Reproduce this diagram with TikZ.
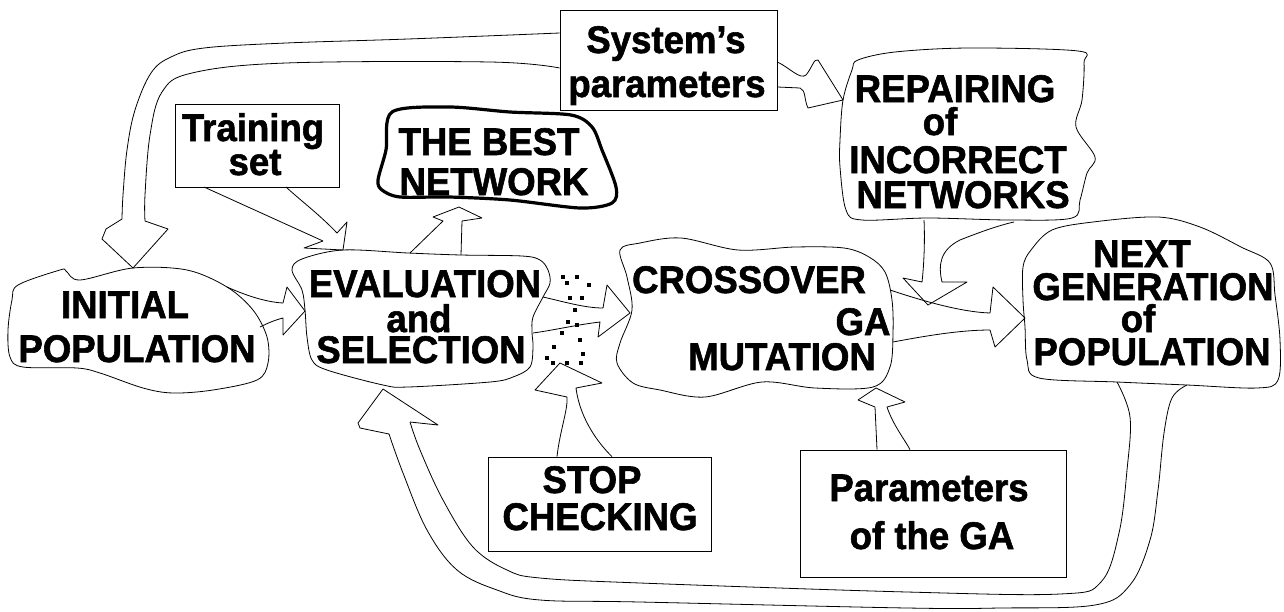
\documentclass[tikz,border=0pt]{standalone}
\usepackage{fontspec}
\setmainfont{Liberation Sans}[BoldFeatures={FakeBold=1.5,FakeStretch=0.95}]
\begin{document}
\begin{tikzpicture}[x=1pt,y=-1pt,
  lbl/.style={anchor=base,inner sep=0pt,font=\bfseries\fontsize{38.5}{40}\selectfont},
  blob/.style={draw,line width=0.8pt,line join=round},
  thickblob/.style={draw,line width=3.2pt,line join=round},
  outline/.style={draw,line width=0.8pt,line join=round},
  box/.style={draw,line width=0.8pt,inner sep=0pt},
  dot/.style={fill,inner sep=0pt,minimum width=4.5pt,minimum height=4.5pt}]
\useasboundingbox (0,0) rectangle (1284,611);

% ---------- rectangular input boxes ----------
\node[box,minimum width=217pt,minimum height=100pt] (sys) at (668.5,60) {};
\node[box,minimum width=164pt,minimum height=83pt] (train) at (257.5,145.5) {};
\node[box,minimum width=223pt,minimum height=94pt] (stop) at (599.5,504) {};
\node[box,minimum width=266pt,minimum height=127pt] (gapar) at (933,513.5) {};

% ---------- cloud-like process blobs ----------
\draw[blob] plot[smooth cycle,tension=0.55] coordinates {
  (18,285) (60,270) (66,271) (80,280) (133,268) (187,270) (227,287)
  (253,310) (267,337) (268,363) (257,380) (213,390) (173,393) (143,388)
  (100,373) (77,368) (23,367) (10,357) (8,330) (12,300)};
\draw[blob] plot[smooth cycle,tension=0.55] coordinates {
  (292,270) (302,259) (343,250) (408,253) (461,255) (522,256) (540,260)
  (548,270) (550,283) (543,297) (533,317) (532,332) (533,347) (530,367)
  (513,377) (490,382) (408,387) (383,385) (327,370) (312,360) (307,337)
  (305,310) (302,290)};
\draw[thickblob] plot[smooth cycle,tension=0.5] coordinates {
  (392,112) (449,107) (510,112) (571,115) (592,127) (602,150) (616,187)
  (612,203) (580,208) (510,200) (449,197) (400,197) (382,190) (378,180)
  (386,150)};
\draw[blob] plot[smooth cycle,tension=0.55] coordinates {
  (858,60) (895,52) (969,48) (1078,51) (1084,63) (1082,100) (1076,127)
  (1095,157) (1087,173) (1080,200) (1072,218) (1010,220) (928,218)
  (862,220) (846,210) (840,167) (840,140) (843,100) (852,70)};
\draw[blob] plot[smooth cycle,tension=0.55] coordinates {
  (620,250) (640,243) (681,238) (738,250) (795,247) (844,248) (869,257)
  (885,272) (892,300) (893,333) (890,367) (873,387) (815,388) (762,382)
  (705,397) (660,390) (633,383) (617,363) (620,343) (632,310) (627,277)};
\draw[blob] plot[smooth cycle,tension=0.55] coordinates {
  (1031,250) (1052,230) (1093,222) (1158,217) (1200,227) (1241,247)
  (1270,263) (1275,295) (1280,340) (1278,380) (1257,388) (1187,385)
  (1117,382) (1039,378) (1027,360) (1025,327) (1023,300) (1023,267)};

% ---------- texts ----------
\node[lbl] (sysA) at (666,53) {System’s};
\node[lbl] (sysB) at (667,97) {parameters};
\node[lbl] (trainA) at (253,141) {Training};
\node[lbl] (trainB) at (255,175) {set};
\node[lbl] (bestA) at (489,155) {THE BEST};
\node[lbl] (bestB) at (494,195) {NETWORK};
\node[lbl] (repA) at (955,102) {REPAIRING};
\node[lbl] (repB) at (940,135) {of};
\node[lbl] (repC) at (958,173) {INCORRECT};
\node[lbl] (repD) at (963,208) {NETWORKS};
\node[lbl] (initA) at (125,318) {INITIAL};
\node[lbl] (initB) at (137,362) {POPULATION};
\node[lbl] (evalA) at (425,297) {EVALUATION};
\node[lbl] (evalB) at (419,332) {and};
\node[lbl] (evalC) at (421,363) {SELECTION};
\node[lbl] (crossA) at (749,293) {CROSSOVER};
\node[lbl] (crossB) at (863,335) {GA};
\node[lbl] (crossC) at (782,370) {MUTATION};
\node[lbl] (nextA) at (1142,267) {NEXT};
\node[lbl] (nextB) at (1153,300) {GENERATION};
\node[lbl] (nextC) at (1138,332) {of};
\node[lbl] (nextD) at (1152,365) {POPULATION};
\node[lbl] (stopA) at (592,493) {STOP};
\node[lbl] (stopB) at (600,530) {CHECKING};
\node[lbl] (gaA) at (929,501) {Parameters};
\node[lbl] (gaB) at (932,549) {of the GA};

% ---------- arrow tips ----------
\coordinate (tipInit) at (133,268);
\coordinate (tipRep) at (843,100);
\coordinate (tipTrain) at (343,250);
\coordinate (tipBest) at (459,207);
\coordinate (tipEval) at (305,311);
\coordinate (tipCross) at (630,313);
\coordinate (tipNext) at (1025,318);
\coordinate (tipMerge) at (928,305);
\coordinate (tipStop) at (560,363);
\coordinate (tipGa) at (876,388);
\coordinate (tipLoop) at (383,389);

% ---------- wide hollow arrows ----------
% system parameters -> initial population
\draw[outline] plot[smooth,tension=0.6] coordinates {(sys.west|-0,33) (408,39) (286,43)
  (204,48) (171,57) (151,73) (135,110) (127,150) (123,195) (122,219)}
  -- (106,229) -- (102,239) -- (tipInit) -- (168,229) -- (145,221);
\draw[outline] plot[smooth,tension=0.6] coordinates {(145,221) (145,195) (150,135)
  (162,92) (192,73) (286,63) (490,62) (sys.west|-0,68)};
% system parameters -> repairing
\draw[outline] (sys.east|-0,62) .. controls (790,68) and (800,80) .. (806,75)
  .. controls (812,68) and (814,58) .. (818,60) -- (tipRep) -- (808,108)
  .. controls (804,100) and (806,90) .. (800,88) -- (sys.east|-0,87);
% training set -> evaluation
\draw[outline] (204,187) -- (323,241) -- (304,248) -- (tipTrain) -- (347,222)
  -- (337,233) .. controls (320,215) and (300,200) .. (286,187);
% evaluation -> the best network
\draw[outline] (410,253) -- (443,221) -- (433,217) -- (tipBest) -- (482,218)
  -- (462,221) -- (461,255);
% initial population -> evaluation
\draw[outline] (227,287) .. controls (245,295) and (265,302) .. (283,303)
  -- (287,287) -- (tipEval) -- (283,335) -- (283,318)
  .. controls (275,320) and (268,323) .. (260,327);
% evaluation -> crossover
\draw[outline] (543,297) .. controls (565,302) and (585,308) .. (603,308)
  -- (607,285) -- (tipCross) -- (598,337) -- (600,322)
  .. controls (575,325) and (555,330) .. (533,333);
% crossover -> next generation
\draw[outline] (890,290) .. controls (920,300) and (960,312) .. (990,313)
  -- (993,287) -- (tipNext) -- (995,347) -- (990,330)
  .. controls (960,330) and (925,336) .. (893,342);
% repairing -> merge into the crossover arrow
\draw[outline] (924,220) .. controls (925,240) and (924,265) .. (922,282)
  -- (903,278) -- (tipMerge) -- (967,282) -- (942,282)
  .. controls (938,265) and (940,250) .. (960,240)
  .. controls (980,232) and (1000,225) .. (1014,222);
% stop checking -> between evaluation and crossover
\draw[outline] (stop.north-|557,0) .. controls (560,430) and (568,410) .. (567,397)
  -- (535,390) -- (tipStop) -- (602,383) -- (576,388)
  .. controls (580,420) and (600,445) .. (stop.north-|612,0);
% parameters of the GA -> crossover/mutation
\draw[outline] (gapar.north-|877,0) -- (875,407) -- (858,400) -- (tipGa) -- (905,402)
  -- (887,407) .. controls (893,425) and (905,440) .. (gapar.north-|910,0);
% next generation -> back to evaluation
\draw[outline] plot[smooth,tension=0.6] coordinates {(1187,385) (1172,398) (1164,433)
  (1158,490) (1150,540) (1130,585) (1095,605) (1000,608) (907,608) (640,602)
  (540,600) (497,590) (457,570) (427,530) (403,473) (389,434)}
  -- (360,428) -- (358,423) -- (tipLoop) -- (438,425) -- (410,422);
\draw[outline] plot[smooth,tension=0.6] coordinates {(410,422) (420,450) (443,500)
  (473,547) (507,570) (540,578) (640,583) (907,592) (1060,594) (1101,582)
  (1119,533) (1127,470) (1130,417) (1117,382)};

% ---------- dotted stop marks ----------
\foreach \p [count=\i] in {(563,277),(577,277),(589,285),(567,283),(570,298),(582,298),
  (575,310),(568,322),(577,325),(562,333),(580,340),(554,347),(583,354),(547,358),
  (553,363),(567,363),(581,363)}
  \node[dot] (d\i) at \p {};
\end{tikzpicture}
\end{document}
